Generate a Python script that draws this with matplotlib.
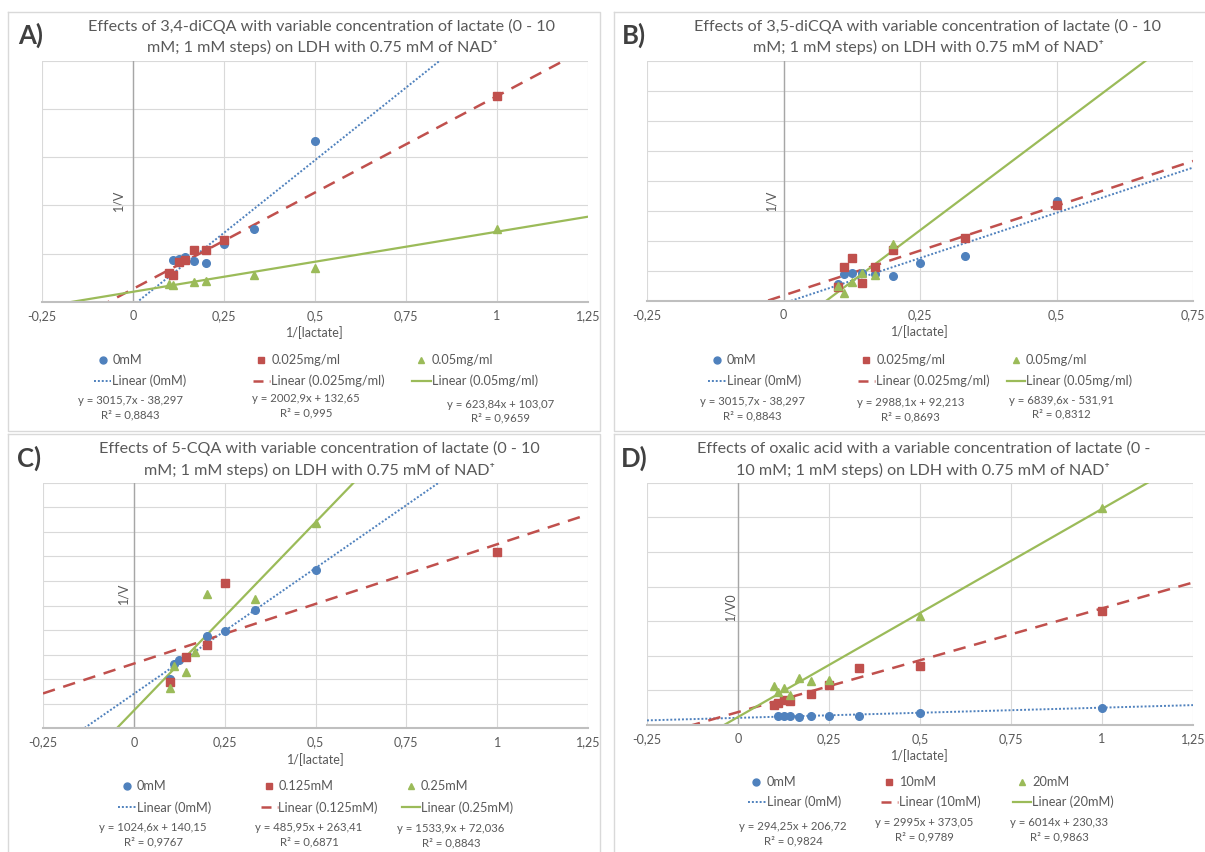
import numpy as np
import matplotlib
matplotlib.use('Agg')
import matplotlib.pyplot as plt

plt.rcParams['font.family'] = ['Lato', 'DejaVu Sans']

W, H = 1205, 852
BLUE, RED, GREEN = '#4F81BD', '#C0504D', '#9BBB59'
GREY_TXT = '#595959'

# ---------------- data (x = 1/[lactate], y = 1/V) ----------------
# A) 3,4-diCQA
a_names = ['0mM', '0.025mg/ml', '0.05mg/ml']
a_x1 = [0.1, 0.111, 0.125, 0.143, 0.167, 0.2, 0.25, 0.333, 0.5]
a_y1 = [293, 431, 448, 465, 424, 403, 595, 751, 1669]
a_x2 = [0.1, 0.111, 0.125, 0.143, 0.167, 0.2, 0.25, 1.0]
a_y2 = [300, 280, 413, 438, 534, 541, 637, 2136]
a_x3 = [0.1, 0.111, 0.167, 0.2, 0.333, 0.5, 1.0]
a_y3 = [183, 172, 207, 217, 274, 353, 758]
a_slope = [3015.7, 2002.9, 623.84]
a_icpt = [-38.297, 132.65, 103.07]
a_r2 = [0.8843, 0.995, 0.9659]

# B) 3,5-diCQA
b_names = ['0mM', '0.025mg/ml', '0.05mg/ml']
b_x1 = [0.1, 0.111, 0.125, 0.143, 0.167, 0.2, 0.25, 0.333, 0.5]
b_y1 = [288, 443, 472, 470, 443, 414, 628, 750, 1667]
b_x2 = [0.1, 0.111, 0.125, 0.143, 0.167, 0.2, 0.333, 0.5]
b_y2 = [231, 565, 720, 295, 575, 850, 1044, 1600]
b_x3 = [0.1, 0.111, 0.125, 0.143, 0.167, 0.2]
b_y3 = [250, 138, 322, 470, 435, 945]
b_slope = [3015.7, 2988.1, 6839.6]
b_icpt = [-38.297, 92.213, -531.91]
b_r2 = [0.8843, 0.8693, 0.8312]

# C) 5-CQA
c_names = ['0mM', '0.125mM', '0.25mM']
c_x1 = [0.1, 0.111, 0.125, 0.2, 0.25, 0.333, 0.5]
c_y1 = [199, 262, 278, 375, 398, 480, 644]
c_x2 = [0.1, 0.143, 0.2, 0.25, 1.0]
c_y2 = [189, 291, 340, 592, 719]
c_x3 = [0.1, 0.111, 0.143, 0.167, 0.2, 0.333, 0.5]
c_y3 = [164, 254, 228, 311, 545, 526, 834]
c_slope = [1024.6, 485.95, 1533.9]
c_icpt = [140.15, 263.41, 72.036]
c_r2 = [0.9767, 0.6871, 0.8843]

# D) oxalic acid
d_names = ['0mM', '10mM', '20mM']
d_x1 = [0.111, 0.125, 0.143, 0.167, 0.2, 0.25, 0.333, 0.5, 1.0]
d_y1 = [250, 250, 250, 220, 262, 262, 257, 356, 500]
d_x2 = [0.1, 0.111, 0.125, 0.143, 0.2, 0.25, 0.333, 0.5, 1.0]
d_y2 = [590, 650, 710, 702, 890, 1170, 1644, 1712, 3298]
d_x3 = [0.1, 0.111, 0.125, 0.143, 0.167, 0.2, 0.25, 0.5, 1.0]
d_y3 = [1115, 942, 1080, 880, 1346, 1260, 1300, 3154, 6279]
d_slope = [294.25, 2995, 6014]
d_icpt = [206.72, 373.05, 230.33]
d_r2 = [0.9824, 0.9789, 0.9863]

# ---------------- layout (pixels) ----------------
panels = [
    dict(letter='A)', title=['Effects of 3,4-diCQA with variable concentration of lactate (0 - 10',
                             'mM; 1 mM steps) on LDH with 0.75 mM of NAD\u207a'],
         frame=(8, 12, 600, 431), box=(42, 61, 588, 301.7), xmax=1.25, ymax=2500, ystep=500,
         ylab='1/V', ylab_xy=(118.6, 200), letter_xy=(18, 35), title_xy=(322, 26),
         xs=[a_x1, a_x2, a_x3], ys=[a_y1, a_y2, a_y3], names=a_names,
         slope=a_slope, icpt=a_icpt, r2=a_r2,
         mk_x=[102.6, 261.4, 421], txt_x=[113, 271.7, 431.3], rows=(360, 381),
         ln_x=[(93.8, 111), (252.6, 269.8), (412, 430.5)],
         eq_x=[130, 306, 500.6], eq_y=[401, 399, 404.3]),
    dict(letter='B)', title=['Effects of 3,5-diCQA with variable concentration of lactate (0 - 10',
                             'mM; 1 mM steps) on LDH with 0.75 mM of NAD\u207a'],
         frame=(613.5, 12, 1210, 431), box=(647, 61, 1193, 301), xmax=0.75, ymax=4000, ystep=500,
         ylab='1/V', ylab_xy=(771.7, 200), letter_xy=(622, 35), title_xy=(928, 26),
         xs=[b_x1, b_x2, b_x3], ys=[b_y1, b_y2, b_y3], names=b_names,
         slope=b_slope, icpt=b_icpt, r2=b_r2,
         mk_x=[717, 865.8, 1016], txt_x=[727, 876.5, 1026], rows=(360, 381),
         ln_x=[(708, 726), (858, 875), (1007, 1025)],
         eq_x=[752, 910.6, 1061.8], eq_y=[401.7, 402.7, 400]),
    dict(letter='C)', title=['Effects of 5-CQA with variable concentration of lactate (0 - 10',
                             'mM; 1 mM steps) on LDH with 0.75 mM of NAD\u207a'],
         frame=(8, 434, 600, 860), box=(43, 482.7, 588, 728.3), xmax=1.25, ymax=1000, ystep=100,
         ylab='1/V', ylab_xy=(123, 593), letter_xy=(17, 458), title_xy=(319.5, 448.3),
         xs=[c_x1, c_x2, c_x3], ys=[c_y1, c_y2, c_y3], names=c_names,
         slope=c_slope, icpt=c_icpt, r2=c_r2,
         mk_x=[127, 268.7, 411.4], txt_x=[137, 279, 421], rows=(786, 807.3),
         ln_x=[(117.9, 135.9), (261, 277.5), (401.8, 420.2)],
         eq_x=[153, 309, 450.8], eq_y=[827.7, 827.7, 829]),
    dict(letter='D)', title=['Effects of oxalic acid with a variable concentration of lactate (0 -',
                             '10 mM; 1 mM steps) on LDH with 0.75 mM of NAD\u207a'],
         frame=(613.5, 434, 1210, 860), box=(647, 482.7, 1193, 725), xmax=1.25, ymax=7000, ystep=1000,
         ylab='1/V0', ylab_xy=(730, 607), letter_xy=(621, 458), title_xy=(923.3, 448.3),
         xs=[d_x1, d_x2, d_x3], ys=[d_y1, d_y2, d_y3], names=d_names,
         slope=d_slope, icpt=d_icpt, r2=d_r2,
         mk_x=[756, 888.6, 1021.7], txt_x=[766.7, 899.4, 1032], rows=(781.7, 801.7),
         ln_x=[(747.8, 765.9), (880.5, 897.8), (1012.8, 1031.3)],
         eq_x=[792.9, 924, 1059], eq_y=[826.7, 822.7, 822.7]),
]

colors = [BLUE, RED, GREEN]
markers = ['o', 's', '^']
lstyles = [(0, (1, 1)), (0, (5, 3.5)), '-']
lwidths = [1.4, 1.8, 1.6]


def num(v):
    return ('%g' % v).replace('.', ',')


def tick_lab(v):
    return num(round(v, 2))


fig = plt.figure(figsize=(W / 100, H / 100), dpi=100)
ov = fig.add_axes([0, 0, 1, 1])
ov.set_xlim(0, W)
ov.set_ylim(H, 0)
ov.axis('off')

for p in panels:
    x0, y0, x1, y1 = p['frame']
    ov.plot([x0, x1, x1, x0, x0], [y0, y0, y1, y1, y0], color='#d9d9d9', lw=1)
    ov.text(*p['letter_xy'], p['letter'], fontsize=18.5, fontweight='bold',
            color='#404040', ha='left', va='center')
    tx, ty = p['title_xy']
    for k, line in enumerate(p['title']):
        ov.text(tx, ty + k * 21.7, line, fontsize=11.6, color=GREY_TXT,
                ha='center', va='center')

    bx0, by0, bx1, by1 = p['box']
    ax = fig.add_axes([bx0 / W, 1 - by1 / H, (bx1 - bx0) / W, (by1 - by0) / H])
    ax.set_facecolor('none')
    ax.set_xlim(-0.25, p['xmax'])
    ax.set_ylim(0, p['ymax'])
    xt = np.arange(-0.25, p['xmax'] + 0.01, 0.25)
    ax.set_xticks(xt)
    ax.set_xticklabels([tick_lab(v) for v in xt])
    ax.set_yticks(np.arange(0, p['ymax'] + 1, p['ystep']))
    ax.set_yticklabels([])
    ax.tick_params(axis='both', length=0, labelsize=9, labelcolor=GREY_TXT, pad=6)
    ax.grid(True, color='#d9d9d9', lw=0.8)
    ax.set_axisbelow(True)
    for s in ['top', 'right', 'left']:
        ax.spines[s].set_visible(False)
    ax.spines['bottom'].set_color('#bfbfbf')
    ax.spines['bottom'].set_linewidth(1.5)
    ax.axvline(0, color='#a6a6a6', lw=1, zorder=1)
    ax.set_xlabel('1/[lactate]', fontsize=9, color=GREY_TXT, labelpad=3)

    xx = np.linspace(-0.25, p['xmax'], 200)
    for i in range(3):
        ax.plot(xx, p['slope'][i] * xx + p['icpt'][i], color=colors[i],
                ls=lstyles[i], lw=lwidths[i], zorder=2)
    for i in range(3):
        ax.plot(p['xs'][i], p['ys'][i], ls='none', marker=markers[i], ms=5.5,
                color=colors[i], mec=colors[i], zorder=3)

    ov.text(*p['ylab_xy'], p['ylab'], rotation=90, fontsize=9, color=GREY_TXT,
            ha='center', va='center')

    r1, r2row = p['rows']
    for i in range(3):
        ov.plot([p['mk_x'][i]], [r1], ls='none', marker=markers[i], ms=5,
                color=colors[i])
        ov.text(p['txt_x'][i], r1, p['names'][i], fontsize=9.2, color=GREY_TXT,
                ha='left', va='center')
        lx0, lx1 = p['ln_x'][i]
        ov.plot([lx0, lx1], [r2row, r2row], color=colors[i],
                ls=(0, (4, 2.5)) if i == 1 else lstyles[i], lw=lwidths[i])
        ov.text(lx1 + 1, r2row, 'Linear (%s)' % p['names'][i], fontsize=9.2,
                color=GREY_TXT, ha='left', va='center')
        sgn = ' - ' if p['icpt'][i] < 0 else ' + '
        eq = 'y = %sx%s%s' % (num(p['slope'][i]), sgn, num(abs(p['icpt'][i])))
        ov.text(p['eq_x'][i], p['eq_y'][i], eq, fontsize=8.2, color=GREY_TXT,
                ha='center', va='center')
        ov.text(p['eq_x'][i], p['eq_y'][i] + 14, 'R\u00b2 = %s' % num(p['r2'][i]),
                fontsize=8.2, color=GREY_TXT, ha='center', va='center')

fig.savefig('out.png', dpi=100)
